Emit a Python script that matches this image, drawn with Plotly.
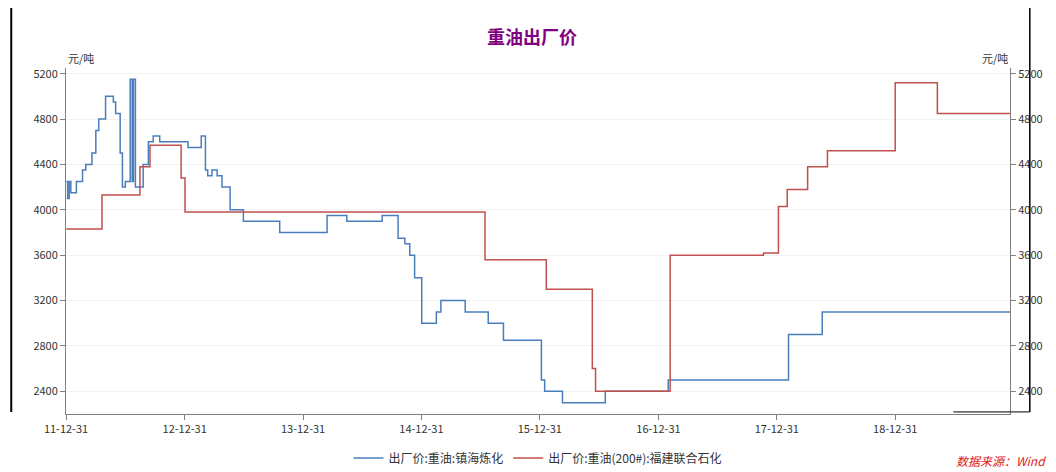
import plotly.graph_objects as go

blue_dates = ["2012-01-01","2012-01-05","2012-01-10","2012-01-15","2012-02-01","2012-02-20","2012-03-01","2012-03-20","2012-04-01","2012-04-10","2012-05-01","2012-05-25","2012-06-01","2012-06-15","2012-06-22","2012-07-01","2012-07-16","2012-07-22","2012-07-26","2012-08-01","2012-08-25","2012-09-10","2012-09-25","2012-10-15","2013-01-10","2013-02-20","2013-03-05","2013-03-12","2013-03-25","2013-04-10","2013-04-25","2013-05-20","2013-06-30","2013-10-20","2014-03-15","2014-05-15","2014-09-01","2014-10-20","2014-11-10","2014-11-25","2014-12-10","2015-01-01","2015-02-15","2015-03-01","2015-05-15","2015-07-25","2015-09-10","2016-01-05","2016-01-15","2016-03-10","2016-07-20","2017-01-30","2018-02-05","2018-05-20","2019-12-20"]
blue_vals = [4250,4100,4250,4150,4250,4350,4400,4500,4700,4800,5000,4950,4850,4500,4200,4250,5150,4250,5150,4200,4400,4600,4650,4600,4550,4650,4350,4300,4350,4300,4200,4000,3900,3800,3950,3900,3950,3750,3700,3600,3400,3000,3100,3200,3100,3000,2850,2500,2400,2300,2400,2500,2900,3100,3100]

red_dates = ["2012-01-01","2012-04-20","2012-08-15","2012-09-15","2012-12-20","2013-01-01","2015-07-15","2016-01-20","2016-06-10","2016-06-20","2017-02-05","2017-11-20","2018-01-05","2018-02-01","2018-04-05","2018-06-05","2018-12-31","2019-05-10","2019-12-20"]
red_vals = [3830,4130,4380,4570,4280,3980,3560,3300,2600,2400,3600,3620,4030,4180,4380,4520,5120,4850,4850]

tick_vals = ["2011-12-31","2012-12-31","2013-12-31","2014-12-31","2015-12-31","2016-12-31","2017-12-31","2018-12-31"]
tick_text = ["11-12-31","12-12-31","13-12-31","14-12-31","15-12-31","16-12-31","17-12-31","18-12-31"]
y_ticks = [2400,2800,3200,3600,4000,4400,4800,5200]

fig = go.Figure()
fig.add_trace(go.Scatter(x=blue_dates, y=blue_vals, mode="lines", line=dict(color="#4a7ebb", width=1.5, shape="hv"),
                         name="出厂价:重油:镇海炼化"))
fig.add_trace(go.Scatter(x=red_dates, y=red_vals, mode="lines", line=dict(color="#c0504d", width=1.5, shape="hv"),
                         name="出厂价:重油(200#):福建联合石化", yaxis="y2"))

yax = dict(range=[2200, 5250], tickvals=y_ticks, showgrid=True, gridcolor="#f2f2f2", zeroline=False,
           showline=True, linecolor="#808080", ticks="outside", tickcolor="#808080", ticklen=5,
           tickfont=dict(size=11, color="#333"), automargin=False)
fig.update_layout(
    width=1048, height=464, paper_bgcolor="white", plot_bgcolor="white",
    margin=dict(l=58, r=46, t=60, b=58, autoexpand=False),
    font=dict(family="Noto Sans CJK SC"),
    title=dict(text="<b>重油出厂价</b>", x=0.5, xanchor="center", y=0.935, yanchor="middle", font=dict(size=18, color="#800080")),
    xaxis=dict(range=["2011-12-31","2019-12-20"], tickvals=tick_vals, ticktext=tick_text, showgrid=False,
               showline=True, linecolor="#808080", ticks="outside", tickcolor="#808080", ticklen=5,
               tickfont=dict(size=11, color="#333"), automargin=False),
    yaxis=yax,
    yaxis2=dict(yax, overlaying="y", side="right", showgrid=False),
    legend=dict(orientation="h", x=0.5, xanchor="center", y=-0.085, yanchor="top", font=dict(size=12, color="#333")),
    showlegend=True,
)
fig.add_annotation(text="元/吨", xref="paper", yref="paper", x=0, y=1.0, xanchor="left", yanchor="bottom",
                   showarrow=False, font=dict(size=11, color="#333"))
fig.add_annotation(text="元/吨", xref="paper", yref="paper", x=1, y=1.0, xanchor="right", yanchor="bottom",
                   showarrow=False, font=dict(size=11, color="#333"))
fig.add_annotation(text="<i>数据来源：Wind</i>", xref="paper", yref="paper", x=1.04, y=-0.105, xanchor="right", yanchor="top",
                   showarrow=False, font=dict(size=12, color="#e02020"))
fig.add_shape(type="line", xref="paper", yref="paper", x0=-0.058, x1=-0.058, y0=0.006, y1=1.25, line=dict(color="black", width=2))
fig.add_shape(type="line", xref="paper", yref="paper", x0=1.021, x1=1.021, y0=0.006, y1=1.25, line=dict(color="black", width=1.5))
fig.add_shape(type="line", xref="paper", yref="paper", x0=0.94, x1=1.021, y0=0.006, y1=0.006, line=dict(color="black", width=1))
fig.write_html("out.html")
